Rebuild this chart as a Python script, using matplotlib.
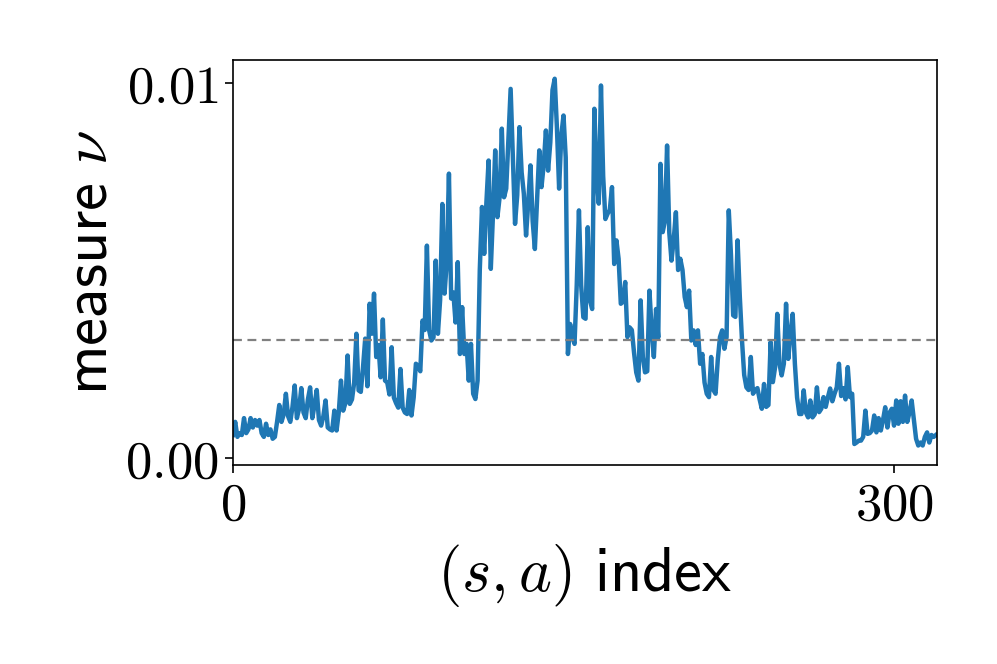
import numpy as np
import matplotlib
matplotlib.use("Agg")
import matplotlib.pyplot as plt

plt.rcParams['mathtext.fontset'] = 'cm'
plt.rcParams['font.family'] = ['DejaVu Sans']

# measure values (x 1e-3) for each (s,a) index
nu_milli = [
    0.60, 0.95, 0.55, 0.65, 0.60, 1.05, 0.65, 0.75, 1.05, 0.80,
    1.00, 0.85, 1.00, 0.65, 0.55, 0.90, 0.60, 0.75, 0.50, 0.55,
    0.95, 1.40, 0.95, 1.15, 1.70, 1.10, 0.95, 1.35, 1.92, 1.05,
    1.30, 1.85, 1.20, 1.05, 1.55, 1.87, 1.05, 1.40, 1.80, 1.00,
    0.85, 1.10, 1.52, 0.80, 0.75, 0.72, 1.25, 0.72, 1.20, 2.05,
    1.25, 1.45, 2.72, 1.43, 1.55, 2.00, 3.30, 1.79, 1.75, 2.40,
    3.17, 1.90, 4.10, 3.30, 4.37, 2.68, 3.00, 2.14, 3.68, 2.05,
    2.00, 1.68, 2.94, 1.60, 1.45, 1.33, 2.36, 1.33, 1.20, 1.16,
    1.80, 1.12, 1.60, 2.50, 2.45, 2.30, 3.65, 3.40, 5.65, 3.40,
    3.12, 3.20, 5.25, 3.30, 4.20, 6.76, 4.37, 5.20, 7.57, 4.24,
    4.40, 3.60, 5.21, 2.76, 4.01, 2.76, 3.03, 2.05, 3.03, 1.70,
    1.56, 2.05, 5.00, 6.68, 5.43, 6.80, 7.92, 5.03, 6.50, 8.19,
    6.41, 6.94, 8.77, 6.94, 7.17, 8.50, 9.83, 8.00, 6.23, 7.00,
    8.81, 7.60, 7.03, 5.92, 6.80, 7.79, 6.30, 5.56, 6.90, 8.19,
    7.21, 7.80, 8.72, 7.65, 8.40, 9.80, 10.10, 8.80, 7.17, 8.60,
    9.12, 8.00, 2.76, 3.56, 3.20, 3.03, 4.60, 6.59, 4.60, 3.74,
    3.70, 6.14, 4.19, 3.96, 9.30, 7.50, 6.77, 9.92, 7.50, 6.36,
    6.50, 6.60, 7.21, 5.16, 5.79, 5.30, 4.10, 4.15, 4.68, 3.21,
    3.47, 3.40, 2.80, 2.27, 2.05, 4.19, 2.68, 2.27, 2.30, 4.45,
    3.40, 2.68, 3.96, 3.20, 7.83, 6.01, 6.30, 8.32, 6.00, 5.25,
    5.80, 6.54, 5.00, 5.30, 5.00, 4.28, 4.01, 4.45, 3.12, 3.39,
    3.00, 3.39, 2.50, 2.76, 2.00, 1.70, 1.61, 2.68, 1.80, 1.70,
    2.60, 3.21, 3.39, 2.90, 3.21, 6.59, 5.40, 3.79, 3.75, 5.79,
    4.30, 3.12, 2.20, 1.87, 1.80, 2.68, 1.70, 1.80, 1.85, 1.55,
    1.30, 1.96, 1.35, 1.40, 3.08, 2.01, 2.40, 3.83, 2.50, 2.19,
    2.50, 4.10, 2.63, 3.30, 3.83, 2.50, 1.60, 1.16, 1.16, 1.79,
    1.20, 1.07, 1.52, 1.07, 1.15, 1.87, 1.21, 1.30, 1.61, 1.35,
    1.61, 1.84, 1.50, 1.70, 1.87, 2.50, 1.64, 1.85, 1.55, 2.41,
    1.61, 1.70, 0.36, 0.40, 0.45, 0.45, 0.55, 1.25, 0.63, 0.65,
    0.72, 1.12, 0.67, 1.05, 0.72, 1.00, 1.34, 0.80, 1.20, 1.30,
    0.85, 1.52, 0.90, 1.50, 0.95, 1.65, 0.95, 1.20, 1.52, 1.00,
    0.50, 0.32, 0.40, 0.32, 0.55, 0.67, 0.40, 0.60, 0.55, 0.60,
]
nu = np.array(nu_milli) * 1e-3
idx = np.arange(len(nu))
uniform_level = 1.0 / len(nu)

x_ticks = [0, 300]
x_tick_labels = [r'$0$', r'$300$']
y_ticks = [0.0, 0.01]
y_tick_labels = [r'$0.00$', r'$0.01$']

fig = plt.figure(figsize=(9.97, 6.64), dpi=100)
ax = fig.add_axes([233/997, 1 - 465/664, (937-233)/997, (465-60)/664])

ax.plot(idx, nu, color='#1f77b4', lw=3.2, solid_joinstyle='round')
ax.axhline(uniform_level, color='gray', ls='--', lw=1.6, dashes=(4, 2.5))

ax.set_xlim(0, len(nu) - 0.5)
ax.set_ylim(-0.0002, 0.0106)
ax.set_xticks(x_ticks)
ax.set_xticklabels(x_tick_labels)
ax.set_yticks(y_ticks)
ax.set_yticklabels(y_tick_labels)
ax.tick_params(labelsize=38, length=6, width=1.2, pad=4)
for s in ax.spines.values():
    s.set_linewidth(1.2)

ax.set_xlabel(r'$(s,a)\ \mathsf{index}$', fontsize=45, labelpad=8)
ax.set_ylabel(r'$\mathsf{measure}\ \nu$', fontsize=45, labelpad=4)

fig.savefig('out.png', dpi=100)
